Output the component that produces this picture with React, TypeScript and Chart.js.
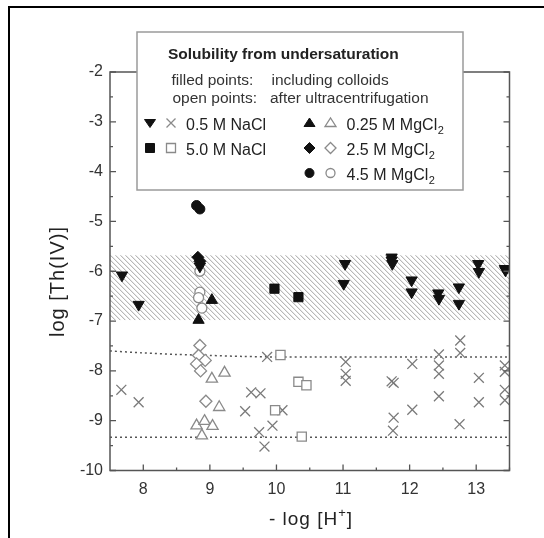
import React, { useEffect, useRef } from 'react';
import { Chart, registerables } from 'chart.js';

Chart.register(...registerables);

const FONT = '"Liberation Sans", Arial, Helvetica, sans-serif';

// Axis ranges and tick values
const X_MIN = 7.5;
const X_MAX = 13.5;
const Y_MIN = -10;
const Y_MAX = -2;
const xTickValues = [8, 9, 10, 11, 12, 13];
const yTickValues = [-10, -9, -8, -7, -6, -5, -4, -3, -2];

// Hatched band (solubility range incl. colloids)
const bandTop = -5.68;
const bandBottom = -6.98;

// Dotted limit curves
const upperLimitX = [7.5, 8.0, 8.5, 9.0, 9.5, 10.0, 13.5];
const upperLimitY = [-7.6, -7.64, -7.67, -7.69, -7.71, -7.72, -7.72];
const lowerLimitX = [7.5, 13.5];
const lowerLimitY = [-9.33, -9.33];

// 0.5 M NaCl, filled (down triangles)
const nacl05FilledX = [7.68, 7.93, 8.85, 11.03, 11.01, 11.73, 11.73, 11.74, 12.03, 12.03, 12.43, 12.44, 12.74, 12.74, 13.03, 13.04, 13.43, 13.44];
const nacl05FilledY = [-6.08, -6.67, -5.9, -5.85, -6.25, -5.72, -5.78, -5.85, -6.18, -6.42, -6.44, -6.55, -6.32, -6.65, -5.85, -6.01, -5.95, -5.98];
// 0.5 M NaCl, open (crosses)
const nacl05OpenX = [7.67, 7.93, 9.53, 9.62, 9.76, 9.74, 9.82, 9.94, 9.86, 10.09, 11.04, 11.04, 11.04, 11.73, 11.76, 11.76, 11.75, 12.04, 12.04, 12.44, 12.44, 12.44, 12.44, 12.76, 12.76, 12.75, 13.04, 13.04, 13.43, 13.43, 13.43, 13.43];
const nacl05OpenY = [-8.38, -8.63, -8.81, -8.43, -8.45, -9.23, -9.52, -9.10, -7.72, -8.79, -7.82, -8.06, -8.2, -8.21, -8.24, -8.94, -9.2, -7.86, -8.78, -7.67, -7.89, -8.06, -8.51, -7.39, -7.64, -9.07, -8.14, -8.63, -7.89, -8.02, -8.38, -8.59];
// 5.0 M NaCl
const nacl50FilledX = [9.97, 10.33];
const nacl50FilledY = [-6.35, -6.52];
const nacl50OpenX = [10.06, 9.98, 10.33, 10.45, 10.38];
const nacl50OpenY = [-7.68, -8.79, -8.22, -8.29, -9.32];
// 0.25 M MgCl2
const mg025FilledX = [9.03, 8.83];
const mg025FilledY = [-6.58, -6.98];
const mg025OpenX = [9.03, 9.22, 9.14, 8.8, 8.92, 9.04, 8.88];
const mg025OpenY = [-8.16, -8.04, -8.73, -9.1, -9.01, -9.11, -9.3];
// 2.5 M MgCl2
const mg25FilledX = [8.82, 8.85];
const mg25FilledY = [-5.72, -5.8];
const mg25OpenX = [8.85, 8.83, 8.93, 8.8, 8.86, 8.94];
const mg25OpenY = [-7.49, -7.69, -7.79, -7.86, -8.0, -8.61];
// 4.5 M MgCl2
const mg45FilledX = [8.8, 8.85];
const mg45FilledY = [-4.68, -4.75];
const mg45OpenX = [8.85, 8.85, 8.83, 8.88];
const mg45OpenY = [-6.0, -6.42, -6.53, -6.74];

// Texts
const legendTitle = 'Solubility from undersaturation';
const legendLine1 = ['filled points:', 'including colloids'];
const legendLine2 = ['open points:', 'after ultracentrifugation'];
const legendLabels = ['0.5 M NaCl', '5.0 M NaCl', '0.25 M MgCl', '2.5 M MgCl', '4.5 M MgCl'];
const xTitle = ['- log [H', '+', ']'];
const yTitle = 'log [Th(IV)]';

const zip = (xs: number[], ys: number[]) => xs.map((x, i) => ({ x, y: ys[i] }));

type Kind = 'down' | 'up' | 'square' | 'diamond' | 'circle' | 'cross';

function drawMarker(ctx: CanvasRenderingContext2D, kind: Kind, x: number, y: number, filled: boolean) {
  ctx.save();
  ctx.lineWidth = filled ? 1 : 1.3;
  ctx.strokeStyle = filled ? '#111' : '#8a8a8a';
  ctx.fillStyle = filled ? '#111' : '#fff';
  ctx.beginPath();
  switch (kind) {
    case 'down':
      ctx.moveTo(x - 5.5, y - 3.5); ctx.lineTo(x + 5.5, y - 3.5); ctx.lineTo(x, y + 4.5); ctx.closePath(); break;
    case 'up':
      ctx.moveTo(x - 5.5, y + 3.5); ctx.lineTo(x + 5.5, y + 3.5); ctx.lineTo(x, y - 5); ctx.closePath(); break;
    case 'square':
      ctx.rect(x - 4.5, y - 4.5, 9, 9); break;
    case 'diamond':
      ctx.moveTo(x, y - 5.5); ctx.lineTo(x + 5.5, y); ctx.lineTo(x, y + 5.5); ctx.lineTo(x - 5.5, y); ctx.closePath(); break;
    case 'circle':
      ctx.arc(x, y, 4.5, 0, Math.PI * 2); break;
    case 'cross':
      ctx.moveTo(x - 4.5, y - 4.5); ctx.lineTo(x + 4.5, y + 4.5);
      ctx.moveTo(x + 4.5, y - 4.5); ctx.lineTo(x - 4.5, y + 4.5);
      ctx.stroke(); ctx.restore(); return;
  }
  ctx.fill();
  ctx.stroke();
  ctx.restore();
}

function makeHatch(): CanvasPattern | string {
  const n = 5;
  const c = document.createElement('canvas');
  c.width = n; c.height = n;
  const g = c.getContext('2d');
  if (!g) return '#ddd';
  g.fillStyle = '#ffffff';
  g.fillRect(0, 0, n, n);
  for (let i = 0; i < n; i++) {
    g.fillStyle = '#b8b8b8';
    g.fillRect(i, i, 1, 1);
    g.fillStyle = '#e8e8e8';
    g.fillRect((i + 1) % n, i, 1, 1);
  }
  const p = g.createPattern(c, 'repeat');
  return p || '#ddd';
}

const decorPlugin = {
  id: 'decor',
  beforeDatasetsDraw(chart: any) {
    const { ctx, chartArea, scales } = chart;
    const y1 = scales.y.getPixelForValue(bandTop);
    const y2 = scales.y.getPixelForValue(bandBottom);
    ctx.save();
    ctx.fillStyle = makeHatch();
    ctx.fillRect(chartArea.left, y1, chartArea.right - chartArea.left, y2 - y1);
    ctx.restore();
  },
  afterDraw(chart: any) {
    const { ctx, chartArea, scales } = chart;
    const { left, right, top, bottom } = chartArea;
    ctx.save();
    // outer frame
    ctx.fillStyle = '#000';
    ctx.fillRect(8, 6, 540, 2);
    ctx.fillRect(8, 6, 2, 540);

    // axes box
    ctx.strokeStyle = '#555';
    ctx.lineWidth = 1.5;
    ctx.beginPath();
    ctx.rect(left, top, right - left, bottom - top);
    ctx.stroke();

    // ticks (inward)
    ctx.lineWidth = 1.3;
    ctx.beginPath();
    for (let v = Y_MIN; v <= Y_MAX + 1e-9; v += 0.5) {
      const y = scales.y.getPixelForValue(v);
      const len = Math.abs(v - Math.round(v)) < 1e-6 ? 6 : 3;
      ctx.moveTo(left, y); ctx.lineTo(left + len, y);
      ctx.moveTo(right, y); ctx.lineTo(right - len, y);
    }
    for (let v = 8; v <= X_MAX + 1e-9; v += 0.5) {
      const x = scales.x.getPixelForValue(v);
      const len = Math.abs(v - Math.round(v)) < 1e-6 ? 6 : 3;
      ctx.moveTo(x, bottom); ctx.lineTo(x, bottom - len);
    }
    ctx.stroke();

    // axis titles
    ctx.fillStyle = '#222';
    ctx.font = `20px ${FONT}`;
    (ctx as any).letterSpacing = '1px';
    ctx.textBaseline = 'alphabetic';
    ctx.save();
    ctx.translate(64, 281.5);
    ctx.rotate(-Math.PI / 2);
    ctx.textAlign = 'center';
    ctx.fillText(yTitle, 0, 0);
    ctx.restore();

    ctx.textAlign = 'left';
    ctx.font = `19px ${FONT}`;
    const w1 = ctx.measureText(xTitle[0]).width;
    ctx.font = `13px ${FONT}`;
    const w2 = ctx.measureText(xTitle[1]).width;
    ctx.font = `19px ${FONT}`;
    const w3 = ctx.measureText(xTitle[2]).width;
    const xs = 311 - (w1 + w2 + w3) / 2;
    const base = 525;
    ctx.fillText(xTitle[0], xs, base);
    ctx.font = `13px ${FONT}`;
    ctx.fillText(xTitle[1], xs + w1, base - 8);
    ctx.font = `19px ${FONT}`;
    ctx.fillText(xTitle[2], xs + w1 + w2, base);
    (ctx as any).letterSpacing = '0px';

    // legend box
    ctx.fillStyle = '#fff';
    ctx.fillRect(137, 32, 326, 158);
    ctx.strokeStyle = '#9a9a9a';
    ctx.lineWidth = 1.5;
    ctx.strokeRect(137, 32, 326, 158);

    ctx.fillStyle = '#222';
    ctx.font = `bold 15.5px ${FONT}`;
    ctx.textAlign = 'left';
    ctx.fillText(legendTitle, 168, 58.5);

    ctx.font = `15.5px ${FONT}`;
    ctx.fillStyle = '#333';
    ctx.fillText(legendLine1[0], 171.5, 85);
    ctx.fillText(legendLine1[1], 271.5, 85);
    ctx.fillText(legendLine2[0], 172.5, 103);
    ctx.fillText(legendLine2[1], 270, 103);

    const rows: { f: Kind; o: Kind; label: string; sub: boolean; mx: number; tx: number; y: number }[] = [
      { f: 'down', o: 'cross', label: legendLabels[0], sub: false, mx: 150, tx: 186, y: 123 },
      { f: 'square', o: 'square', label: legendLabels[1], sub: false, mx: 150, tx: 186, y: 148 },
      { f: 'up', o: 'up', label: legendLabels[2], sub: true, mx: 309.5, tx: 346.5, y: 123 },
      { f: 'diamond', o: 'diamond', label: legendLabels[3], sub: true, mx: 309.5, tx: 346.5, y: 148 },
      { f: 'circle', o: 'circle', label: legendLabels[4], sub: true, mx: 309.5, tx: 346.5, y: 173 },
    ];
    for (const r of rows) {
      drawMarker(ctx, r.f, r.mx, r.y, true);
      drawMarker(ctx, r.o, r.mx + 21, r.y, false);
      ctx.font = `16px ${FONT}`;
      ctx.fillStyle = '#222';
      ctx.fillText(r.label, r.tx, r.y + 7);
      if (r.sub) {
        const w = ctx.measureText(r.label).width;
        ctx.font = `11px ${FONT}`;
        ctx.fillText('2', r.tx + w + 0.5, r.y + 11);
      }
    }
    ctx.restore();
  },
};

function pts(label: string, xs: number[], ys: number[], style: string, radius: number, filled: boolean, rotation = 0) {
  return {
    label,
    data: zip(xs, ys),
    pointStyle: style,
    pointRadius: radius,
    pointRotation: rotation,
    pointBackgroundColor: filled ? '#111' : '#ffffff',
    pointBorderColor: filled ? '#111' : style === 'crossRot' ? '#7a7a7a' : '#8a8a8a',
    pointBorderWidth: filled ? 1 : 1.3,
    showLine: false,
  };
}

export default function App() {
  const ref = useRef<HTMLCanvasElement | null>(null);
  useEffect(() => {
    if (!ref.current) return;
    const chart = new Chart(ref.current, {
      type: 'scatter',
      data: {
        datasets: [
          pts('4.5 M MgCl2 filled', mg45FilledX, mg45FilledY, 'circle', 5, true),
          pts('2.5 M MgCl2 filled', mg25FilledX, mg25FilledY, 'rectRot', 6, true),
          pts('0.25 M MgCl2 filled', mg025FilledX, mg025FilledY, 'triangle', 6.5, true),
          pts('5.0 M NaCl filled', nacl50FilledX, nacl50FilledY, 'rect', 6.5, true),
          pts('0.5 M NaCl filled', nacl05FilledX, nacl05FilledY, 'triangle', 6.5, true, 180),
          pts('4.5 M MgCl2 open', mg45OpenX, mg45OpenY, 'circle', 5, false),
          pts('2.5 M MgCl2 open', mg25OpenX, mg25OpenY, 'rectRot', 6, false),
          pts('0.25 M MgCl2 open', mg025OpenX, mg025OpenY, 'triangle', 6.5, false),
          pts('5.0 M NaCl open', nacl50OpenX, nacl50OpenY, 'rect', 6.5, false),
          pts('0.5 M NaCl open', nacl05OpenX, nacl05OpenY, 'crossRot', 7, false),
          {
            label: 'upper limit',
            type: 'line',
            data: zip(upperLimitX, upperLimitY),
            borderColor: '#555',
            borderWidth: 1.5,
            borderDash: [2, 3],
            pointRadius: 0,
            showLine: true,
            fill: false,
            tension: 0.3,
          } as any,
          {
            label: 'lower limit',
            type: 'line',
            data: zip(lowerLimitX, lowerLimitY),
            borderColor: '#555',
            borderWidth: 1.5,
            borderDash: [2, 3],
            pointRadius: 0,
            showLine: true,
            fill: false,
          } as any,
        ],
      },
      options: {
        animation: false,
        responsive: false,
        devicePixelRatio: 1,
        layout: { padding: { left: 0, top: 72, right: 34.5, bottom: 0 } },
        plugins: { legend: { display: false }, tooltip: { enabled: false } },
        scales: {
          x: {
            type: 'linear',
            min: X_MIN,
            max: X_MAX,
            grid: { display: false, drawTicks: false },
            border: { display: false },
            afterBuildTicks: (s: any) => { s.ticks = xTickValues.map((value) => ({ value })); },
            ticks: {
              padding: 9,
              color: '#333',
              font: { family: FONT, size: 16 },
              callback: (v: any) => String(v),
            },
            afterFit: (s: any) => { s.height = 67.5; },
          },
          y: {
            type: 'linear',
            min: Y_MIN,
            max: Y_MAX,
            grid: { display: false, drawTicks: false },
            border: { display: false },
            afterBuildTicks: (s: any) => { s.ticks = yTickValues.map((value) => ({ value })); },
            ticks: {
              padding: 7,
              color: '#333',
              font: { family: FONT, size: 16 },
              callback: (v: any) => String(v),
            },
            afterFit: (s: any) => { s.width = 110; },
          },
        },
      } as any,
      plugins: [decorPlugin],
    });
    return () => chart.destroy();
  }, []);
  return (
    <div style={{ position: 'absolute', left: 0, top: 0, width: 544, height: 538, background: '#fff' }}>
      <canvas ref={ref} width={544} height={538} style={{ display: 'block', width: 544, height: 538 }} />
    </div>
  );
}
